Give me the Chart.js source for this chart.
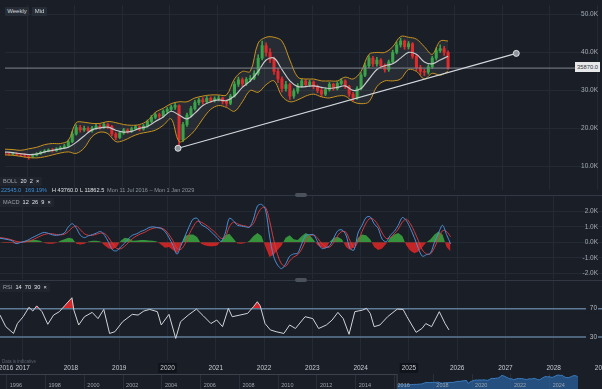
<!DOCTYPE html>
<html>
<head>
<meta charset="utf-8">
<script src="https://cdn.jsdelivr.net/npm/chart.js@4.4.0/dist/chart.umd.min.js"></script>
<style>
html, body { margin: 0; padding: 0; background: #191e27; }
#wrap { position: relative; width: 602px; height: 389px; overflow: hidden; background: #191e27; font-family: "Liberation Sans", Arial, sans-serif; }
canvas { position: absolute; left: 0; }
.t { position: absolute; white-space: nowrap; line-height: 1; }
.btn { position: absolute; height: 9px; background: #272d37; color: #d3d7dc; font-size: 6px; line-height: 9px; text-align: center; border-radius: 1px; }
.lbl { position: absolute; height: 9px; padding: 0 3px; background: #1f242d; color: #9aa0a8; font-size: 5.6px; line-height: 9px; white-space: nowrap; }
.lbl b { color: #e4e7eb; font-weight: normal; }
.sep { position: absolute; left: 0; width: 602px; height: 1px; background: #323843; }
.handle { position: absolute; left: 295px; width: 12px; height: 4px; background: #4b515b; border-radius: 2px; }
</style>
</head>
<body>
<div id="wrap">
  <canvas id="main" width="602" height="195" style="top:0"></canvas>
  <canvas id="macd" width="602" height="83" style="top:196px"></canvas>
  <canvas id="rsi" width="602" height="94" style="top:281px"></canvas>
  <canvas id="nav" width="602" height="15" style="top:374px"></canvas>

  <div class="sep" style="top:195px"></div><div class="handle" style="top:193px"></div>
  <div class="sep" style="top:280px"></div><div class="handle" style="top:278px"></div>

  <div class="btn" style="left:5px;top:7px;width:24px">Weekly</div>
  <div class="btn" style="left:32px;top:7px;width:15px">Mid</div>

  <div class="lbl" style="left:0;top:177px">BOLL&nbsp; <b>20&nbsp; 2&nbsp; ×</b></div>
  <div class="t" style="left:1px;top:188px;font-size:5.6px;color:#3d8fd8">22545.0</div>
  <div class="t" style="left:25px;top:188px;font-size:5.6px;color:#3d8fd8">169.19%</div>
  <div class="t" style="left:52px;top:188px;font-size:5.6px;color:#dfe2e6">H 43760.0</div>
  <div class="t" style="left:80px;top:188px;font-size:5.6px;color:#dfe2e6">L 11862.5</div>
  <div class="t" style="left:107px;top:188px;font-size:5.6px;color:#8d939b">Mon 11 Jul 2016 – Mon 1 Jan 2029</div>

  <div class="lbl" style="left:0;top:198px">MACD&nbsp; <b>12&nbsp; 26&nbsp; 9&nbsp; ×</b></div>
  <div class="lbl" style="left:0;top:283px">RSI&nbsp; <b>14&nbsp; 70&nbsp; 30&nbsp; ×</b></div>

  <div class="t" style="left:575px;top:62px;width:25px;height:10px;line-height:10px;background:#e7e8ea;color:#30343b;font-size:5.8px;text-align:center">35870.0</div>
  <div class="t" style="left:2px;top:360px;font-size:4.5px;color:#5c626c">Data is indicative</div>
</div>

<script>
// ---- data ----
// monthly bars from Jul 2016 (index = months since start), prices in thousands
var startYear = 2016.53;

var opens = [13.4,13.3,13.2,13.4,13.1,13.0,12.9,12.6,12.9,13.3,
  13.7,14.0,14.3,14.1,14.6,14.9,15.3,16.5,18.5,20.2,
  19.6,20.0,19.4,20.1,20.6,20.3,21.0,20.5,18.5,17.6,
  18.8,19.6,19.2,19.9,20.4,19.8,20.6,21.8,22.9,23.6,
  23.2,24.5,25.0,25.6,26.0,17.0,21.0,23.5,25.2,26.8,
  27.5,27.0,27.9,27.3,27.8,28.0,27.1,26.6,28.5,31.6,
  32.8,31.8,32.9,33.2,34.5,38.5,41.8,40.0,38.2,35.0,
  33.0,30.5,31.5,28.5,29.8,31.2,32.5,31.5,32.2,31.0,
  30.0,29.0,30.2,31.6,30.5,31.8,32.5,31.0,29.0,28.0,
  30.5,34.0,36.5,38.5,37.0,38.0,36.5,35.5,37.5,40.0,
  42.0,43.0,41.5,42.3,39.0,36.0,35.0,34.8,36.2,38.5,
  40.5,41.0,40.0];
var highs = [13.8,13.6,13.7,13.6,13.4,13.3,13.1,13.2,13.6,14.0,
  14.4,14.6,14.7,14.9,15.3,15.8,16.9,19.2,20.9,20.8,
  20.6,20.4,20.5,21.1,21.0,21.5,21.4,20.8,18.9,19.2,
  20.0,19.9,20.3,20.8,20.7,21.0,22.2,23.4,24.1,24.0,
  24.9,25.5,26.1,26.6,26.2,21.6,24.0,25.8,27.4,28.0,
  28.1,28.4,28.3,28.3,28.6,28.2,27.5,29.0,32.3,33.5,
  33.3,33.4,33.9,35.2,39.4,43.0,42.5,41.0,38.8,35.8,
  33.6,32.4,31.9,30.4,31.8,33.0,32.9,32.7,32.5,31.4,
  30.5,30.7,32.1,31.9,32.3,33.1,32.8,31.3,29.5,31.0,
  34.6,37.2,39.2,39.0,38.7,38.4,37.0,38.0,40.6,42.8,
  43.76,43.3,42.9,42.6,39.4,36.6,35.6,36.8,39.0,41.2,
  42.0,41.6,40.4];
var lows = [13.0,12.9,13.0,12.8,12.6,12.4,11.86,12.3,12.7,13.1,
  13.5,13.8,13.7,13.9,14.3,14.6,15.0,16.2,18.2,19.0,
  19.2,18.9,19.0,19.8,19.8,20.0,19.9,18.0,17.0,17.3,
  18.4,18.7,18.9,19.6,19.3,19.5,20.3,21.5,22.5,22.6,
  22.9,24.0,24.6,25.0,14.75,16.5,20.5,23.0,24.8,26.2,
  26.4,26.6,26.8,26.9,27.2,26.4,25.8,26.2,28.2,31.0,
  31.0,31.3,32.3,32.8,34.0,38.0,39.0,37.3,34.2,32.0,
  29.6,29.8,27.6,27.9,29.2,30.8,30.9,31.0,30.4,29.4,
  28.3,28.6,29.8,30.0,30.1,31.4,30.5,28.4,27.3,27.6,
  30.1,33.6,36.0,36.3,36.4,35.8,34.8,35.0,37.1,39.6,
  41.4,40.8,40.9,38.4,35.2,34.1,33.9,34.3,35.8,38.0,
  40.0,39.2,35.5];
var closes = [13.3,13.2,13.4,13.1,13.0,12.9,12.6,12.9,13.3,13.7,
  14.0,14.3,14.1,14.6,14.9,15.3,16.5,18.5,20.2,19.6,
  20.0,19.4,20.1,20.6,20.3,21.0,20.5,18.5,17.6,18.8,
  19.6,19.2,19.9,20.4,19.8,20.6,21.8,22.9,23.6,23.2,
  24.5,25.0,25.6,26.0,17.0,21.0,23.5,25.2,26.8,27.5,
  27.0,27.9,27.3,27.8,28.0,27.1,26.6,28.5,31.6,32.8,
  31.8,32.9,33.2,34.5,38.5,41.8,40.0,38.2,35.0,33.0,
  30.5,31.5,28.5,29.8,31.2,32.5,31.5,32.2,31.0,30.0,
  29.0,30.2,31.6,30.5,31.8,32.5,31.0,29.0,28.0,30.5,
  34.0,36.5,38.5,37.0,38.0,36.5,35.5,37.5,40.0,42.0,
  43.0,41.5,42.3,39.0,36.0,35.0,34.8,36.2,38.5,40.5,
  41.0,40.0,35.87];

// Bollinger 20/2, read every second month
var bollUpper = [14.5,14.4,14.2,14.6,15.0,15.7,16.0,16.0,16.8,21.5,21.6,21.3,21.3,21.8,21.5,21.0,20.8,21.0,22.0,24.2,
  25.3,26.5,27.0,27.0,28.0,28.5,28.8,28.8,28.8,33.0,35.0,35.0,42.5,44.0,44.0,43.0,38.0,33.5,33.0,33.0,
  32.5,32.5,32.5,33.5,33.0,35.0,39.5,40.0,40.0,41.5,44.2,44.0,43.5,41.5,39.5,43.0,43.0];
var bollMid = [13.75,13.6,13.3,13.1,13.2,13.8,14.2,14.6,15.0,16.3,18.0,19.6,20.1,20.3,19.5,19.0,19.2,20.0,20.5,21.8,
  23.0,24.5,23.5,22.5,24.0,26.0,27.0,27.5,27.3,28.5,30.8,32.5,35.0,38.0,38.5,35.5,32.5,31.0,31.0,31.2,
  30.8,30.5,30.8,31.2,30.0,30.5,33.0,35.5,36.5,37.0,38.5,40.0,39.5,37.5,37.0,38.0,39.0];
var bollLower = [13.0,12.9,12.6,12.3,12.2,12.5,13.0,13.5,13.8,13.4,14.8,17.8,19.0,18.6,16.5,16.8,17.8,18.6,19.0,19.5,
  20.8,22.5,16.5,17.5,19.5,22.5,25.0,26.0,25.5,24.5,27.0,30.0,29.5,31.5,32.5,28.5,27.0,27.5,28.5,29.0,
  28.3,28.0,28.5,28.5,27.0,26.5,27.0,31.0,32.5,32.5,33.0,35.5,35.0,33.0,34.5,34.0,35.0];

// MACD 12/26/9 (thousands), monthly
var macdLine = [0.26,0.22,0.17,0.1,-0.08,-0.02,0.05,0.15,0.3,0.42,
  0.55,0.64,0.58,0.48,0.45,0.5,0.6,1.0,1.2,0.9,
  0.45,0.3,0.42,0.5,0.6,0.7,0.45,0.0,-0.5,-0.55,
  -0.3,-0.05,0.25,0.47,0.55,0.7,0.8,0.95,1.0,0.95,
  0.9,0.7,0.3,-0.2,-0.77,-0.2,0.4,1.0,1.5,1.55,
  1.15,1.0,0.8,0.55,0.3,0.05,0.6,1.55,1.4,1.1,
  1.05,1.0,0.97,1.5,2.35,2.45,2.1,0.4,-0.9,-1.47,
  -1.7,-1.4,-0.9,-0.75,-0.7,-0.1,0.45,0.5,0.47,0.0,
  -0.4,-0.35,-0.2,0.3,0.75,0.8,0.47,-0.4,-0.5,0.6,
  1.1,1.6,1.65,1.2,0.9,0.2,0.04,0.45,0.7,1.1,
  1.6,1.4,0.9,0.3,-0.4,-0.9,-0.8,-0.7,0.0,0.6,
  1.1,0.5,-0.1];
var macdSignal = [0.3,0.27,0.22,0.15,0.06,0.02,0.02,0.06,0.15,0.27,
  0.4,0.5,0.56,0.55,0.5,0.48,0.52,0.7,0.95,1.05,
  0.8,0.55,0.45,0.45,0.52,0.6,0.57,0.3,-0.1,-0.4,
  -0.42,-0.25,0.0,0.25,0.42,0.55,0.65,0.8,0.9,0.95,
  0.93,0.8,0.5,0.1,-0.4,-0.45,-0.1,0.5,1.0,1.35,
  1.3,1.15,0.95,0.75,0.5,0.25,0.35,1.0,1.3,1.2,
  1.1,1.05,1.0,1.2,1.8,2.2,2.25,1.4,0.2,-0.8,
  -1.4,-1.55,-1.2,-0.95,-0.8,-0.45,0.1,0.4,0.48,0.25,
  -0.1,-0.3,-0.3,0.0,0.45,0.7,0.65,0.1,-0.35,0.05,
  0.7,1.25,1.55,1.45,1.1,0.6,0.25,0.3,0.55,0.85,
  1.3,1.5,1.2,0.7,0.1,-0.5,-0.75,-0.75,-0.35,0.25,
  0.75,0.7,0.35];
var macdHist = [0.0,-0.05,-0.05,-0.05,-0.1,0.0,0.08,0.12,0.15,0.15,
  0.1,-0.05,-0.1,-0.1,-0.05,0.1,0.2,0.3,0.25,-0.1,
  -0.15,-0.1,0.05,0.1,0.1,0.05,-0.2,-0.4,-0.45,-0.3,
  0.1,0.3,0.25,0.1,0.12,0.15,0.15,0.12,0.1,0.05,
  -0.15,-0.35,-0.3,-0.5,-0.7,-0.2,0.4,0.5,0.5,0.35,
  -0.1,-0.2,-0.25,-0.25,-0.2,0.1,0.45,0.55,0.25,-0.08,
  -0.1,-0.05,0.1,0.4,0.6,0.4,-0.3,-0.95,-0.8,-0.5,
  -0.2,0.3,0.45,0.2,0.15,0.4,0.6,0.45,0.15,-0.2,
  -0.35,-0.4,0.05,0.3,0.35,0.2,-0.3,-0.5,-0.3,0.3,
  0.5,0.45,0.2,-0.3,-0.5,-0.4,-0.1,0.3,0.5,0.6,
  0.4,-0.2,-0.55,-0.7,-0.6,-0.3,0.0,0.2,0.5,0.7,
  0.5,-0.3,-0.6];

// RSI 14
var rsiYears = [2016.53,2016.65,2016.81,2016.89,2017.01,2017.13,2017.21,2017.29,2017.40,2017.52,
  2017.64,2017.76,2017.88,2018.02,2018.06,2018.16,2018.28,2018.44,2018.56,2018.68,
  2018.80,2018.91,2019.07,2019.27,2019.39,2019.51,2019.63,2019.79,2019.87,2020.03,
  2020.17,2020.27,2020.43,2020.60,2020.74,2020.90,2021.02,2021.14,2021.26,2021.34,
  2021.50,2021.66,2021.78,2021.86,2021.92,2022.02,2022.13,2022.25,2022.41,2022.53,
  2022.65,2022.85,2023.01,2023.13,2023.29,2023.41,2023.53,2023.64,2023.76,2023.88,
  2024.04,2024.12,2024.20,2024.28,2024.40,2024.56,2024.76,2024.88,2024.96,2025.15,
  2025.27,2025.35,2025.47,2025.63,2025.75,2025.83];
var rsiValues = [61,44.6,35,49,58.7,72,66.7,74,65.8,48,
  61,65.8,75,85.5,68,47,58.7,64.8,56,69,
  35,37.5,51.6,62,61,66.7,69,65.8,47,62,
  28,51.6,61,69.5,60,49,54,44.6,70.5,58.7,
  61,63.4,72.8,79.9,74,49,40,37.5,35,47,
  42,58.7,56,42,47,54,64.8,56,33.8,65.8,
  68,70.5,63.4,44.6,47,58.7,69.5,69,58.7,36.6,
  42,49,44.6,65.8,49,40];
var rsiLevels = [70, 30];

// trend line drawn on the chart, and last price
var trendYears = [2020.175, 2027.30];
var trendPrices = [14.75, 39.75];
var lastPrice = 35.87;

// axes
var xMin = 2016.53, xMax = 2029.0;
var yearTicks = [2017,2018,2019,2020,2021,2022,2023,2024,2025,2026,2027,2028,2029];
var priceTicks = [10, 20, 30, 40, 50];
var macdTicks = [-2, -1, 0, 1, 2];
var navYears = [1996,1998,2000,2002,2004,2006,2008,2010,2012,2014,2016,2018,2020,2022,2024];

// ---- charts ----
Chart.defaults.font.family = '"Liberation Sans", Arial, sans-serif';
var bg = '#191e27';
var gridColor = '#242a34';
var upCol = '#3aa548', downCol = '#e02a2c';

function monthX(i) { return startYear + i / 12; }

function rightLabels(fmt) {
  return {
    id: 'rightLabels',
    afterDraw: function(chart) {
      var s = chart.scales.y, c = chart.ctx;
      c.save();
      c.font = '6.5px "Liberation Sans", Arial';
      c.fillStyle = '#a5abb3';
      c.textAlign = 'right';
      c.textBaseline = 'middle';
      s.ticks.forEach(function(t) { c.fillText(fmt(t.value), 598, s.getPixelForValue(t.value)); });
      c.restore();
    }
  };
}

function noPad(s) { s.paddingLeft = 0; s.paddingRight = 0; s.paddingTop = 0; s.paddingBottom = 0; }

function baseX() {
  return {
    type: 'linear', min: xMin, max: xMax, offset: false,
    grid: { color: gridColor, drawTicks: false, offset: false },
    border: { display: false },
    ticks: { display: false },
    afterBuildTicks: function(s) { s.ticks = yearTicks.map(function(v) { return { value: v }; }); },
    afterFit: function(s) { s.height = 0; noPad(s); }
  };
}

function baseY(min, max, ticks) {
  return {
    min: min, max: max, position: 'right',
    grid: { color: gridColor, drawTicks: false },
    border: { display: false },
    ticks: { display: false },
    afterBuildTicks: function(s) { s.ticks = ticks.map(function(v) { return { value: v }; }); },
    afterFit: function(s) { s.width = 0; noPad(s); }
  };
}

var common = {
  responsive: false, animation: false, events: [],
  layout: { padding: 0 },
  plugins: { legend: { display: false }, tooltip: { enabled: false }, filler: { drawTime: 'beforeDatasetsDraw' } }
};

// main price panel
var candleColors = closes.map(function(c, i) { return c >= opens[i] ? upCol : downCol; });
var wicks = closes.map(function(c, i) { return { x: monthX(i), y: [lows[i], highs[i]] }; });
var bodies = closes.map(function(c, i) { return { x: monthX(i), y: [opens[i], c] }; });
function bandPts(arr) { return arr.map(function(v, i) { return { x: monthX(i * 2), y: v }; }); }

new Chart(document.getElementById('main'), {
  type: 'bar',
  data: {
    datasets: [
      { type: 'line', data: trendYears.map(function(x, i) { return { x: x, y: trendPrices[i] }; }),
        borderColor: '#d3d7dc', borderWidth: 1.1, pointRadius: 3, pointBackgroundColor: '#8e949c',
        pointBorderColor: '#dde1e5', pointBorderWidth: 1 },
      { type: 'line', data: [{ x: xMin, y: lastPrice }, { x: xMax, y: lastPrice }],
        borderColor: '#80868f', borderWidth: 1, pointRadius: 0 },
      { type: 'line', data: bandPts(bollMid), borderColor: '#c7c9cd', borderWidth: 1.2, pointRadius: 0, tension: 0.35 },
      { type: 'line', data: bandPts(bollUpper), borderColor: '#c8921f', borderWidth: 1, pointRadius: 0, tension: 0.35,
        fill: '+1', backgroundColor: 'rgba(190,190,190,0.09)' },
      { type: 'line', data: bandPts(bollLower), borderColor: '#c8921f', borderWidth: 1, pointRadius: 0, tension: 0.35 },
      { data: bodies, backgroundColor: candleColors, barThickness: 2.4, grouped: false },
      { data: wicks, backgroundColor: candleColors, barThickness: 1, grouped: false }
    ]
  },
  options: Object.assign({}, common, {
    scales: { x: baseX(), y: baseY(3.75, 52.5, priceTicks) }
  }),
  plugins: [rightLabels(function(v) { return v.toFixed(1) + 'K'; })]
});

// MACD panel
function monthly(arr) { return arr.map(function(v, i) { return { x: monthX(i), y: v }; }); }
new Chart(document.getElementById('macd'), {
  type: 'line',
  data: {
    datasets: [
      { data: monthly(macdLine), borderColor: '#4d8fd6', borderWidth: 1, pointRadius: 0, tension: 0.3 },
      { data: monthly(macdSignal), borderColor: '#d8393b', borderWidth: 1, pointRadius: 0, tension: 0.3 },
      { data: monthly(macdHist), borderWidth: 0, pointRadius: 0,
        fill: { target: 'origin', above: 'rgba(56,160,62,0.9)', below: 'rgba(214,38,40,0.9)' } }
    ]
  },
  options: Object.assign({}, common, {
    scales: { x: baseX(), y: baseY(-2.37, 2.99, macdTicks) }
  }),
  plugins: [rightLabels(function(v) { return v.toFixed(1) + 'K'; })]
});

// RSI panel (with the shared time axis labels at its bottom)
var rsiPts = rsiYears.map(function(x, i) { return { x: x, y: rsiValues[i] }; });
var rsiX = baseX();
rsiX.grid = { color: function(c) { return c.tick && c.tick.value % 1 ? 'transparent' : gridColor; }, drawTicks: false, offset: false };
rsiX.ticks = {
  display: true, color: '#c8ccd2', font: { size: 6.5 }, padding: 4, maxRotation: 0, autoSkip: false,
  callback: function(v) { return String(Math.floor(v)); },
  showLabelBackdrop: function(c) { return !!c.tick && (c.tick.value === 2020 || c.tick.value === 2025); },
  backdropColor: '#10141a', backdropPadding: { top: 1, bottom: 1, left: 2, right: 2 }
};
rsiX.afterBuildTicks = function(s) { s.ticks = [2016.655].concat(yearTicks).map(function(v) { return { value: v }; }); };
rsiX.afterFit = function(s) { s.height = 15; noPad(s); };

new Chart(document.getElementById('rsi'), {
  type: 'line',
  data: {
    datasets: [
      { data: rsiPts, borderColor: '#d2d4d8', borderWidth: 1, pointRadius: 0,
        fill: { target: { value: rsiLevels[0] }, above: 'rgba(222,40,42,0.95)', below: 'transparent' } },
      { data: rsiPts, borderColor: 'transparent', borderWidth: 0, pointRadius: 0,
        fill: { target: { value: rsiLevels[1] }, above: 'transparent', below: 'rgba(56,170,62,0.95)' } },
      { data: [{ x: xMin, y: rsiLevels[0] }, { x: xMax, y: rsiLevels[0] }], borderColor: '#5f7b97', borderWidth: 1.4, pointRadius: 0 },
      { data: [{ x: xMin, y: rsiLevels[1] }, { x: xMax, y: rsiLevels[1] }], borderColor: '#5f7b97', borderWidth: 1.4, pointRadius: 0 }
    ]
  },
  options: Object.assign({}, common, {
    scales: { x: rsiX, y: baseY(-2.51, 109.15, []) }
  }),
  plugins: [{
    id: 'rsiLevelLabels',
    afterDraw: function(chart) {
      var s = chart.scales.y, c = chart.ctx;
      c.save();
      c.font = '6.5px "Liberation Sans", Arial';
      c.textAlign = 'right'; c.textBaseline = 'middle';
      rsiLevels.forEach(function(v) {
        var y = s.getPixelForValue(v);
        c.fillStyle = bg; c.fillRect(586, y - 3.5, 12, 7);
        c.fillStyle = '#b5bbc3'; c.fillText(String(v), 597, y);
      });
      c.restore();
    }
  }]
});

// navigator strip
var navMin = 1996.05, navMax = 2027.1;
new Chart(document.getElementById('nav'), {
  type: 'line',
  data: {
    datasets: [
      { data: monthly(closes), borderColor: '#3a7ec4', borderWidth: 1, pointRadius: 0,
        fill: 'origin', backgroundColor: 'rgba(40,96,156,0.75)' }
    ]
  },
  options: Object.assign({}, common, {
    scales: {
      x: {
        type: 'linear', min: navMin, max: navMax, offset: false,
        grid: { color: '#2a303a', drawTicks: false }, border: { display: false }, ticks: { display: false },
        afterBuildTicks: function(s) { s.ticks = navYears.map(function(v) { return { value: v + 0.4 }; }); },
        afterFit: function(s) { s.height = 0; noPad(s); }
      },
      y: { min: 0, max: 46, display: false }
    }
  }),
  plugins: [{
    id: 'navLabels',
    afterDraw: function(chart) {
      var s = chart.scales.x, c = chart.ctx;
      c.save();
      c.font = '5.5px "Liberation Sans", Arial';
      c.fillStyle = '#9ea4ac'; c.textAlign = 'left'; c.textBaseline = 'middle';
      navYears.forEach(function(v) { c.fillText(String(v), s.getPixelForValue(v + 0.4) + 3, 11); });
      var edge = s.getPixelForValue(startYear);
      c.strokeStyle = '#3d434d'; c.lineWidth = 1;
      c.strokeRect(-1, 0.5, edge + 1, 16);
      c.restore();
    }
  }]
});
</script>
</body>
</html>
